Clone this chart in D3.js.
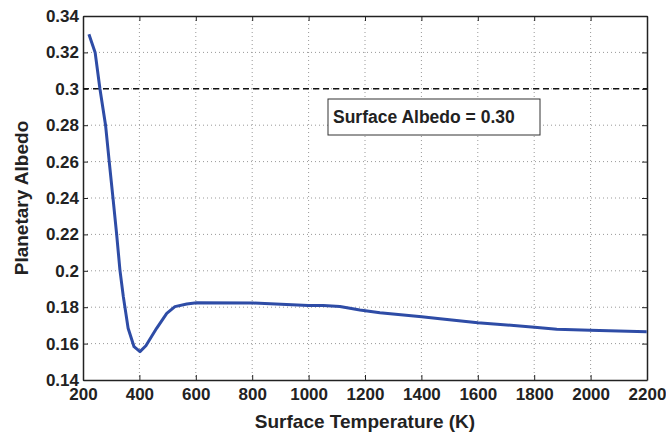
<!DOCTYPE html>
<html>
<head>
<meta charset="utf-8">
<script src="https://cdn.jsdelivr.net/npm/d3@7"></script>
<style>
  body { margin: 0; background: #fff; }
  svg text { font-family: "Liberation Sans", Arial, sans-serif; font-weight: bold; fill: #222; }
</style>
</head>
<body>
<div id="chart"></div>
<script>
const WIDTH = 666;
const HEIGHT = 434;

// temperatura (K) y albedo planetario
const temperatura = [221, 243, 260, 280, 293, 307, 319, 331, 343, 360, 381, 402, 423, 461, 497, 526, 568, 603, 804, 999, 1052, 1111, 1182, 1253, 1401, 1466, 1600, 1801, 1880, 1998, 2199];
const albedo = [0.330, 0.320, 0.300, 0.280, 0.260, 0.239, 0.2206, 0.2004, 0.1858, 0.1684, 0.1583, 0.1556, 0.1588, 0.1684, 0.1766, 0.1803, 0.1818, 0.1825, 0.1823, 0.1810, 0.1810, 0.1804, 0.1785, 0.1770, 0.1748, 0.1737, 0.1715, 0.1690, 0.1679, 0.1673, 0.1665];

const albedoSuperficie = 0.30;
const ticksX = [200, 400, 600, 800, 1000, 1200, 1400, 1600, 1800, 2000, 2200];
const ticksY = [0.14, 0.16, 0.18, 0.2, 0.22, 0.24, 0.26, 0.28, 0.3, 0.32, 0.34];

const margin = { top: 16, right: 19, bottom: 54, left: 83 };
const w = WIDTH - margin.left - margin.right;
const h = HEIGHT - margin.top - margin.bottom;

const svg = d3.select("#chart").append("svg")
  .attr("width", WIDTH).attr("height", HEIGHT);
const g = svg.append("g").attr("transform", `translate(${margin.left},${margin.top})`);

const x = d3.scaleLinear().domain([200, 2200]).range([0, w]);
const y = d3.scaleLinear().domain([0.14, 0.34]).range([h, 0]);

// grilla punteada
g.append("g").selectAll("line").data(ticksX.slice(1, -1)).join("line")
  .attr("x1", d => x(d)).attr("x2", d => x(d)).attr("y1", 0).attr("y2", h)
  .attr("stroke", "#999").attr("stroke-width", 1).attr("stroke-dasharray", "1,3");
g.append("g").selectAll("line").data(ticksY.slice(1, -1)).join("line")
  .attr("y1", d => y(d)).attr("y2", d => y(d)).attr("x1", 0).attr("x2", w)
  .attr("stroke", "#999").attr("stroke-width", 1).attr("stroke-dasharray", "1,3");

// ejes
const ejeAbajo = g.append("g").attr("transform", `translate(0,${h})`)
  .call(d3.axisBottom(x).tickValues(ticksX).tickFormat(d3.format("d")).tickSizeInner(-5).tickSizeOuter(0).tickPadding(8));
const ejeIzq = g.append("g")
  .call(d3.axisLeft(y).tickValues(ticksY).tickFormat(d => String(d)).tickSizeInner(-5).tickSizeOuter(0).tickPadding(4));
const ejeArriba = g.append("g")
  .call(d3.axisTop(x).tickValues(ticksX).tickFormat("").tickSizeInner(-5).tickSizeOuter(0));
const ejeDer = g.append("g").attr("transform", `translate(${w},0)`)
  .call(d3.axisRight(y).tickValues(ticksY).tickFormat("").tickSizeInner(-5).tickSizeOuter(0));

[ejeAbajo, ejeIzq, ejeArriba, ejeDer].forEach(e => {
  e.select(".domain").attr("stroke", "#222").attr("stroke-width", 1.5);
  e.selectAll(".tick line").attr("stroke", "#222");
  e.selectAll("text").style("font-size", "17px").attr("fill", "#222");
});
ejeAbajo.selectAll("text").attr("dy", "0.71em");

// linea de albedo de superficie
g.append("line")
  .attr("x1", x(200)).attr("x2", x(2200))
  .attr("y1", y(albedoSuperficie)).attr("y2", y(albedoSuperficie))
  .attr("stroke", "#111").attr("stroke-width", 1.5).attr("stroke-dasharray", "6,4");

// curva
const datos = temperatura.map((t, i) => ({ t: t, a: albedo[i] }));
g.append("path").datum(datos)
  .attr("fill", "none")
  .attr("stroke", "#2e4ca6")
  .attr("stroke-width", 3)
  .attr("stroke-linejoin", "round")
  .attr("d", d3.line().x(d => x(d.t)).y(d => y(d.a)));

// caja de texto
svg.append("rect")
  .attr("x", 328).attr("y", 99).attr("width", 212).attr("height", 36)
  .attr("fill", "#fff").attr("stroke", "#333").attr("stroke-width", 1);
svg.append("text")
  .attr("x", 333).attr("y", 123)
  .style("font-size", "17.5px")
  .text("Surface Albedo = " + albedoSuperficie.toFixed(2));

// titulos
svg.append("text")
  .attr("x", margin.left + w / 2).attr("y", 428)
  .attr("text-anchor", "middle").style("font-size", "19px")
  .text("Surface Temperature (K)");
svg.append("text")
  .attr("transform", `translate(28,${margin.top + h / 2}) rotate(-90)`)
  .attr("text-anchor", "middle").style("font-size", "19px")
  .text("Planetary Albedo");
</script>
</body>
</html>
